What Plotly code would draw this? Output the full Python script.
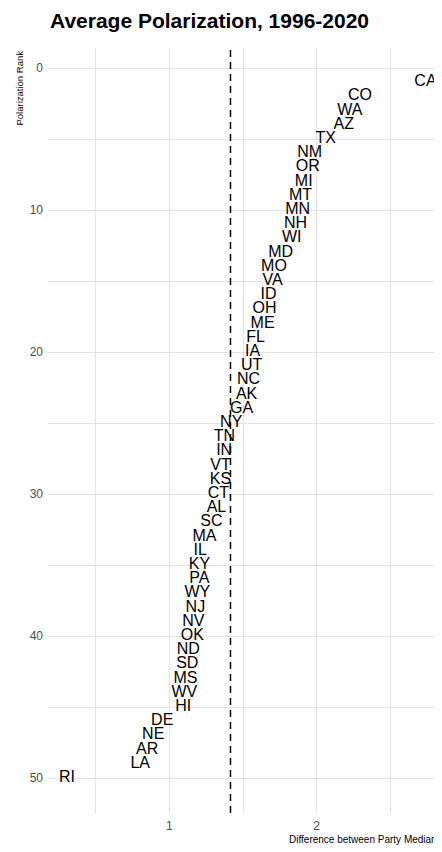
import plotly.graph_objects as go

states = ["CA","CO","WA","AZ","TX","NM","OR","MI","MT","MN","NH","WI","MD","MO","VA",
          "ID","OH","ME","FL","IA","UT","NC","AK","GA","NY","TN","IN","VT","KS","CT",
          "AL","SC","MA","IL","KY","PA","WY","NJ","NV","OK","ND","SD","MS","WV","HI",
          "DE","NE","AR","LA","RI"]
ranks = list(range(1, 51))
diff = [2.738, 2.293, 2.224, 2.184, 2.061, 1.952, 1.939, 1.912, 1.890, 1.871,
        1.857, 1.830, 1.755, 1.710, 1.700, 1.673, 1.646, 1.633, 1.585, 1.565,
        1.558, 1.537, 1.524, 1.490, 1.420, 1.374, 1.372, 1.347, 1.347, 1.333,
        1.320, 1.286, 1.238, 1.210, 1.204, 1.204, 1.190, 1.177, 1.163, 1.156,
        1.129, 1.122, 1.109, 1.102, 1.095, 0.952, 0.891, 0.850, 0.803, 0.306]
mean_line = 1.415

FONT = "Liberation Sans, Arial, sans-serif"
GRID = "#e3e3e3"

fig = go.Figure()
fig.add_trace(go.Scatter(
    x=diff, y=ranks, mode="text", text=states,
    textposition="middle center",
    textfont=dict(family=FONT, size=16, color="#000000"),
    hoverinfo="skip", showlegend=False, cliponaxis=False,
))

fig.add_shape(type="line", xref="x", yref="paper", x0=mean_line, x1=mean_line,
              y0=0, y1=1, line=dict(color="#000000", width=1.5, dash="7px,5px"))

fig.update_layout(
    width=442, height=852,
    margin=dict(l=40, r=8, t=40, b=47),
    plot_bgcolor="white", paper_bgcolor="white",
    xaxis=dict(range=[0.177, 2.85], dtick=1, tick0=0, showline=False, zeroline=False,
               showgrid=True, gridcolor=GRID, gridwidth=1, ticks="",
               tickfont=dict(family=FONT, size=12, color="#4d4d4d"),
               minor=dict(dtick=0.5, showgrid=True, gridcolor=GRID, gridwidth=0.7),
               ticklabelstandoff=4),
    yaxis=dict(range=[52.46, -1.41], dtick=10, tick0=0, showline=False, zeroline=False,
               showgrid=True, gridcolor=GRID, gridwidth=1, ticks="",
               tickfont=dict(family=FONT, size=12, color="#4d4d4d"),
               minor=dict(dtick=5, showgrid=True, gridcolor=GRID, gridwidth=0.7),
               ticklabelstandoff=4),
    font=dict(family=FONT),
)

fig.add_annotation(text="<b>Average Polarization, 1996-2020</b>", xref="paper", yref="paper",
                   x=0, y=1, xanchor="left", yanchor="middle", yshift=28, showarrow=False,
                   font=dict(family=FONT, size=21, color="#000000"))
fig.add_annotation(text="Difference between Party Medians", xref="paper", yref="paper",
                   x=1, y=0, xanchor="right", yanchor="top", yshift=-19, xshift=2,
                   showarrow=False, font=dict(family=FONT, size=10, color="#000000"))
fig.add_annotation(text="Polarization Rank", xref="paper", yref="paper",
                   x=0, y=1, xanchor="center", yanchor="top", xshift=-29, yshift=-1,
                   textangle=-90, showarrow=False,
                   font=dict(family=FONT, size=9.5, color="#000000"))

fig.write_html("out.html")
